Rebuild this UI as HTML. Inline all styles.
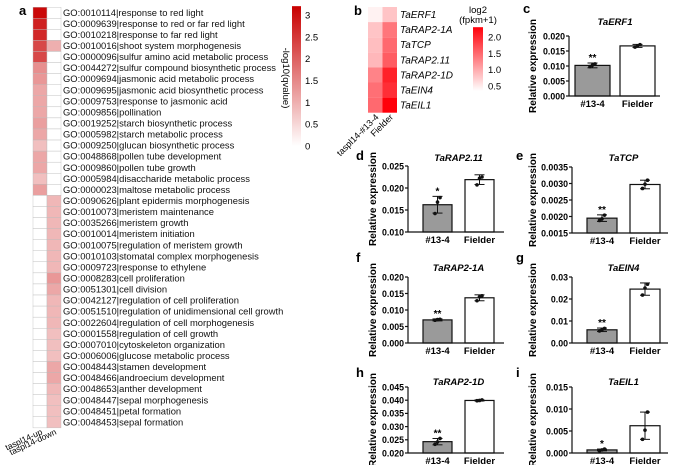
<!DOCTYPE html>
<html><head><meta charset="utf-8"><style>
html,body{margin:0;padding:0;background:#fff;}
svg{display:block;font-family:"Liberation Sans",Arial,sans-serif;}
</style></head><body>
<svg id="fig" width="674" height="465" viewBox="0 0 674 465"></svg>
<script>
// ---------- Panel a data ----------
const goTerms = ["GO:0010114|response to red light","GO:0009639|response to red or far red light","GO:0010218|response to far red light","GO:0010016|shoot system morphogenesis","GO:0000096|sulfur amino acid metabolic process","GO:0044272|sulfur compound biosynthetic process","GO:0009694|jasmonic acid metabolic process","GO:0009695|jasmonic acid biosynthetic process","GO:0009753|response to jasmonic acid","GO:0009856|pollination","GO:0019252|starch biosynthetic process","GO:0005982|starch metabolic process","GO:0009250|glucan biosynthetic process","GO:0048868|pollen tube development","GO:0009860|pollen tube growth","GO:0005984|disaccharide metabolic process","GO:0000023|maltose metabolic process","GO:0090626|plant epidermis morphogenesis","GO:0010073|meristem maintenance","GO:0035266|meristem growth","GO:0010014|meristem initiation","GO:0010075|regulation of meristem growth","GO:0010103|stomatal complex morphogenesis","GO:0009723|response to ethylene","GO:0008283|cell proliferation","GO:0051301|cell division","GO:0042127|regulation of cell proliferation","GO:0051510|regulation of unidimensional cell growth","GO:0022604|regulation of cell morphogenesis","GO:0001558|regulation of cell growth","GO:0007010|cytoskeleton organization","GO:0006006|glucose metabolic process","GO:0048443|stamen development","GO:0048466|androecium development","GO:0048653|anther development","GO:0048447|sepal morphogenesis","GO:0048451|petal formation","GO:0048453|sepal formation"];
const upValues = [3.1,2.8,2.7,2.3,2.3,1.4,1.3,1.1,1.1,1.1,1.2,1.1,0.8,1.1,1.1,0.8,1.2,0,0,0,0,0,0,0,0,0,0,0,0,0,0,0,0,0,0,0,0,0];
const downValues = [0,0,0,1.0,0,0,0,0,0,0,0,0,0,0,0,0,0,0.9,0.9,0.9,0.9,0.9,0.9,0.9,1.3,1.1,0.9,0.9,0.9,0.8,0.8,0.8,1.1,1.1,0.9,0.8,0.8,0.8];
const aColumns = ["taspl14-up","taspl14-down"];
const aTicks = [0,0.5,1,1.5,2,2.5,3];
// ---------- Panel b data ----------
const bGenes = ["TaERF1","TaRAP2-1A","TaTCP","TaRAP2.11","TaRAP2-1D","TaEIN4","TaEIL1"];
const bMutant = [0.45,0.8,0.85,0.9,1.3,1.45,1.5];
const bFielder = [0.8,1.4,1.5,1.6,2.05,1.95,2.3];
const bColumns = ["taspl14-#13-4","Fielder"];
const bTicks = [0.5,1.0,1.5,2.0];
// ---------- Bar chart data ----------
const barGenes = ["TaERF1","TaRAP2.11","TaTCP","TaRAP2-1A","TaEIN4","TaRAP2-1D","TaEIL1"];
const barGroups = ["#13-4","Fielder"];
const mutantMeans = [0.0102,0.0162,0.00195,0.0070,0.0060,0.0243,0.0007];
const mutantErr = [0.0008,0.0019,0.0001,0.0003,0.0008,0.0012,0.0002];
const fielderMeans = [0.0167,0.0219,0.00297,0.0137,0.0245,0.0399,0.0062];
const fielderErr = [0.0005,0.0011,0.00013,0.0009,0.0028,0.0002,0.0031];
const mutantPoints = [[0.0098,0.0103,0.0107],[0.0142,0.0168,0.0178],[0.00188,0.00193,0.00204],[0.0069,0.0071,0.0072],[0.0055,0.0060,0.0066],[0.0233,0.0242,0.0255],[0.0005,0.0007,0.0009]];
const fielderPoints = [[0.0163,0.0167,0.0171],[0.0207,0.0222,0.0225],[0.00285,0.00298,0.0031],[0.0128,0.0140,0.0143],[0.0218,0.0250,0.0267],[0.0398,0.0399,0.0401],[0.0031,0.0052,0.0093]];
const yMins = [0,0.010,0.0015,0,0,0.020,0];
const yMaxs = [0.020,0.025,0.0035,0.020,0.03,0.045,0.015];
const yTickSteps = [0.005,0.005,0.0005,0.005,0.01,0.005,0.005];
const yDecimals = [3,3,4,3,2,3,3];
const sigMarks = ["**","*","**","**","**","**","*"];
const panelLetters = ["c","d","e","f","g","h","i"];

const NS="http://www.w3.org/2000/svg";
const svg=document.getElementById('fig');
function mk(tag,attrs,parent,text){const e=document.createElementNS(NS,tag);for(const k in attrs)e.setAttribute(k,attrs[k]);if(text!==undefined)e.textContent=text;(parent||svg).appendChild(e);return e;}
function redA(v){const t=Math.max(0,Math.min(1,v/3.2));return `rgb(${Math.round(255-t*55)},${Math.round(255-t*255)},${Math.round(255-t*255)})`;}
function redB(v){const t=Math.max(0,Math.min(1,(v-0.35)/(2.3-0.35)));return `rgb(255,${Math.round(255-t*255)},${Math.round(255-t*245)})`;}

// ---------- Panel a ----------
const ga=mk('g',{});

const al=mk('text',{x:19,y:15,'font-size':13,'font-weight':'bold'},ga,'a');

const aTop=7.2,aRow=11.07,aX0=33,aW=14;
goTerms.forEach((term,i)=>{
  [upValues,downValues].forEach((vals,j)=>{
    const r=mk('rect',{x:aX0+j*aW,y:aTop+i*aRow,width:aW,height:aRow,fill:redA(vals[i]),stroke:'#bbb','stroke-width':0.4},ga);
    
  });
  const t=mk('text',{x:63,y:aTop+i*aRow+8.6,'font-size':9.4,fill:'#111'},ga,term);
  
});
aColumns.forEach((c,j)=>{
  const x=aX0+j*aW+aW/2+3,y=aTop+goTerms.length*aRow+6;
  const t=mk('text',{x:x,y:y,'font-size':8.5,'text-anchor':'end',transform:`rotate(-25 ${x} ${y})`},ga,c);
  
});
// colorbar a
const defs=mk('defs',{});
const lgA=mk('linearGradient',{id:'gA',x1:0,y1:1,x2:0,y2:0},defs);
for(let k=0;k<=10;k++)mk('stop',{offset:k/10,'stop-color':redA(3.2*k/10)},lgA);
const lgB=mk('linearGradient',{id:'gB',x1:0,y1:1,x2:0,y2:0},defs);
for(let k=0;k<=10;k++)mk('stop',{offset:k/10,'stop-color':redB(0.35+1.95*k/10)},lgB);
const cbA=mk('g',{});
const ya=v=>146-v*43.7;
mk('rect',{x:292,y:ya(3.2),width:9,height:ya(0)-ya(3.2),fill:'url(#gA)'},cbA);
aTicks.forEach(v=>{const t=mk('text',{x:305,y:ya(v)+3.5,'font-size':9.5},cbA,String(v));
  });
const cat=mk('text',{x:283,y:78,'font-size':9.5,'text-anchor':'middle',transform:'rotate(90 283 78)'},cbA,'-log10(qvalue)');


// ---------- Panel b ----------
const gb=mk('g',{});
const bl=mk('text',{x:354,y:15,'font-size':13,'font-weight':'bold'},gb,'b');

const bTop=7,bRow=15.1,bX0=368,bW=14.5;
bGenes.forEach((g,i)=>{
  [bMutant,bFielder].forEach((vals,j)=>{
    const r=mk('rect',{x:bX0+j*bW,y:bTop+i*bRow,width:bW,height:bRow,fill:redB(vals[i])},gb);
    
  });
  const t=mk('text',{x:400,y:bTop+i*bRow+11,'font-size':10,'font-style':'italic'},gb,g);
  
});
bColumns.forEach((c,j)=>{
  const x=bX0+j*bW+bW/2+4,y=bTop+bGenes.length*bRow+5;
  const t=mk('text',{x:x,y:y,'font-size':9,'text-anchor':'end',transform:`rotate(-45 ${x} ${y})`},gb,c);
  
});
const yb=v=>37+(2.0-v)*32.7;
mk('rect',{x:473,y:yb(2.3),width:10,height:yb(0.35)-yb(2.3),fill:'url(#gB)'},gb);
bTicks.forEach(v=>{const t=mk('text',{x:488,y:yb(v)+3.5,'font-size':9.5},gb,v.toFixed(1));
  });
const bt1=mk('text',{x:478,y:13,'font-size':9.5,'text-anchor':'middle'},gb,'log2');

const bt2=mk('text',{x:478,y:23,'font-size':9.5,'text-anchor':'middle'},gb,'(fpkm+1)');


// ---------- Bar charts ----------
const layouts=[
 {ax:569,top:36,bot:96,b1:6,bw:35,b2:51,xEnd:91,lx:523,ly:13,ty:21,ylx:536},
 {ax:408,top:166,bot:232,b1:15,bw:29,b2:57,xEnd:96,lx:356,ly:160,ty:157,ylx:376},
 {ax:572,top:167,bot:233,b1:15,bw:30,b2:58,xEnd:96,lx:516,ly:160,ty:157,ylx:536},
 {ax:408,top:277,bot:343,b1:15,bw:29,b2:57,xEnd:96,lx:356,ly:262,ty:267,ylx:376},
 {ax:572,top:277,bot:343,b1:15,bw:30,b2:58,xEnd:96,lx:516,ly:262,ty:267,ylx:536},
 {ax:408,top:387,bot:453,b1:15,bw:29,b2:57,xEnd:96,lx:356,ly:377,ty:381,ylx:376},
 {ax:572,top:387,bot:453,b1:15,bw:30,b2:58,xEnd:96,lx:516,ly:377,ty:381,ylx:536}
];
barGenes.forEach((gene,i)=>{
  const L=layouts[i];
  const g=mk('g',{});
  const y=v=>L.bot-(v-yMins[i])/(yMaxs[i]-yMins[i])*(L.bot-L.top);
  const lt=mk('text',{x:L.lx,y:L.ly,'font-size':13,'font-weight':'bold'},g,panelLetters[i]);
  
  const tt=mk('text',{x:L.ax+(L.b1+L.b2+L.bw)/2,y:L.ty+4,'font-size':9.5,'font-weight':'bold','font-style':'italic','text-anchor':'middle'},g,gene);
  
  const cy=(L.top+L.bot)/2;
  const yl=mk('text',{x:L.ylx,y:cy,'font-size':10,'font-weight':'bold','text-anchor':'middle',transform:`rotate(-90 ${L.ylx} ${cy})`},g,'Relative expression');
  
  [[mutantMeans,mutantErr,mutantPoints,L.b1,'#9a9a9a'],[fielderMeans,fielderErr,fielderPoints,L.b2,'#fff']].forEach(([m,e,p,off,fill],j)=>{
    const x0=L.ax+off,cx=x0+L.bw/2;
    const r=mk('rect',{x:x0,y:y(m[i]),width:L.bw,height:L.bot-y(m[i]),fill:fill,stroke:'#111','stroke-width':1.2},g);
    
    const hi=y(m[i]+e[i]),lo=y(m[i]-e[i]);
    mk('line',{x1:cx,x2:cx,y1:hi,y2:lo,stroke:'#111','stroke-width':1},g);
    mk('line',{x1:cx-5,x2:cx+5,y1:hi,y2:hi,stroke:'#111','stroke-width':1},g);
    mk('line',{x1:cx-5,x2:cx+5,y1:lo,y2:lo,stroke:'#111','stroke-width':1},g);
    p[i].forEach((v,k)=>{const d=mk('circle',{cx:cx+(k-1)*2.5,cy:y(v),r:1.8,fill:'#111'},g);
      });
    if(j===0){const s=mk('text',{x:cx,y:hi-2,'font-size':10,'font-weight':'bold','text-anchor':'middle'},g,sigMarks[i]);
      }
    const xl=mk('text',{x:cx,y:L.bot+11,'font-size':9.5,'font-weight':'bold','text-anchor':'middle'},g,barGroups[j]);
    
  });
  mk('line',{x1:L.ax,x2:L.ax,y1:L.top,y2:L.bot,stroke:'#111','stroke-width':1.2},g);
  mk('line',{x1:L.ax,x2:L.ax+L.xEnd,y1:L.bot,y2:L.bot,stroke:'#111','stroke-width':1.2},g);
  const n=Math.round((yMaxs[i]-yMins[i])/yTickSteps[i]);
  for(let k=0;k<=n;k++){const v=yMins[i]+k*yTickSteps[i];
    mk('line',{x1:L.ax-3,x2:L.ax,y1:y(v),y2:y(v),stroke:'#111','stroke-width':1.2},g);
    const t=mk('text',{x:L.ax-4,y:y(v)+3.3,'font-size':8.8,'font-weight':'bold','text-anchor':'end'},g,v.toFixed(yDecimals[i]));
    }
});
</script>
</body></html>
